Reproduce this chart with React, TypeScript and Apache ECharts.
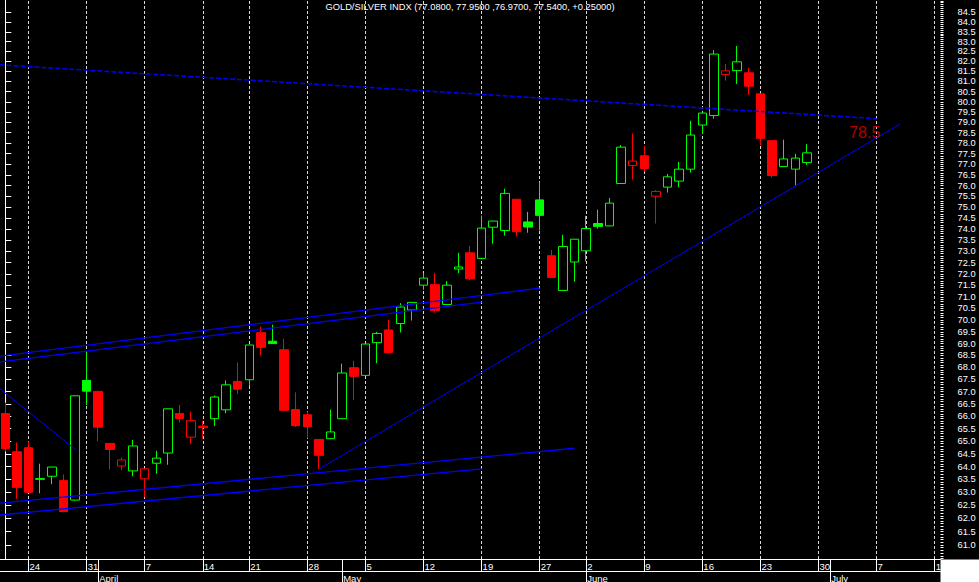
import React, { useEffect, useRef } from 'react';
import * as echarts from 'echarts';

// ---- Data ----
const dates = ['3/20','3/21','3/24','3/25','3/26','3/27','3/28','3/31','4/1','4/2','4/3','4/4','4/7','4/8','4/9','4/10','4/11','4/14','4/15','4/16','4/17','4/21','4/22','4/23','4/24','4/25','4/28','4/29','4/30','5/1','5/2','5/5','5/6','5/7','5/8','5/9','5/12','5/13','5/14','5/15','5/16','5/19','5/20','5/21','5/22','5/23','5/27','5/28','5/29','5/30','6/2','6/3','6/4','6/5','6/6','6/9','6/10','6/11','6/12','6/13','6/16','6/17','6/18','6/19','6/20','6/23','6/24','6/25','6/26','6/27','6/30','7/1','7/2','7/3','7/4','7/7','7/8','7/9','7/10','7/11','7/14'];

const weekStarts = ['3/24','3/31','4/7','4/14','4/21','4/28','5/5','5/12','5/19','5/27','6/2','6/9','6/16','6/23','6/30','7/7','7/14'];
const monthStarts = ['4/1','5/1','6/2','7/1'];
const monthNames = ['April','May','June','July'];

const priorClose = 66.4;
const opens = [66.11,64.58,64.74,63.50,63.62,63.45,62.70,67.46,67.01,64.91,
64.02,63.83,63.52,64.13,64.53,66.11,65.16,65.60,65.90,66.26,
67.42,67.49,69.46,69.10,68.74,66.27,66.06,65.07,65.10,65.90,
67.99,67.67,69.04,69.58,69.85,70.43,71.51,71.53,70.67,72.22,
72.94,72.69,74.09,73.94,75.37,74.33,75.34,72.81,71.28,72.53,
73.03,74.26,74.15,76.10,76.94,77.40,75.51,75.93,76.21,76.77,
78.87,79.33,81.35,81.54,81.43,80.39,78.12,76.89,76.77,77.08];
const highs = [66.55,64.95,64.99,64.11,63.99,63.69,66.85,68.63,67.03,64.93,
64.36,65.05,63.92,64.62,66.31,66.46,66.19,65.82,66.84,67.46,
68.20,68.95,69.72,69.80,69.21,66.97,66.19,65.08,66.27,68.16,
68.28,68.99,69.49,70.01,70.73,70.77,72.04,72.05,71.69,72.94,
73.25,74.62,74.38,75.86,75.38,74.79,76.17,73.07,73.75,73.56,
74.61,74.89,75.43,77.91,78.46,77.87,75.79,76.54,77.11,79.08,
79.46,82.57,81.88,82.78,81.68,80.40,78.13,78.17,77.49,77.95];
const lows = [64.59,62.75,62.98,62.96,63.31,62.23,62.68,66.45,65.00,63.89,
63.85,63.62,62.81,63.72,64.07,65.75,64.88,65.10,65.60,66.12,
66.90,67.23,68.50,69.00,66.20,65.56,65.11,63.90,65.09,65.89,
66.65,67.66,68.17,68.60,69.47,69.98,71.31,70.32,70.66,72.03,
71.72,72.68,73.35,73.71,73.67,73.84,73.94,71.84,71.27,71.66,
72.55,74.03,74.14,76.09,76.28,76.66,74.26,75.68,75.93,76.61,
78.44,79.18,81.05,80.88,80.34,77.89,76.38,76.88,76.01,76.97];
const closes = [64.70,63.19,63.00,63.53,63.98,62.26,66.83,67.02,65.56,64.67,
64.26,64.81,63.91,64.33,66.30,65.91,65.82,65.54,66.78,67.28,
67.10,68.94,68.84,69.00,66.24,65.62,65.58,64.44,65.37,67.77,
67.63,68.98,69.43,68.62,70.56,70.76,71.82,70.41,71.51,72.31,
71.79,74.05,74.37,75.64,73.89,74.10,74.63,71.85,73.22,73.55,
74.03,74.13,75.19,77.81,77.15,76.80,75.73,76.41,76.77,78.39,
79.45,82.37,81.53,81.98,80.77,78.23,76.47,77.25,77.29,77.54];

// trend lines: [category position, value]
const trendTop = [[-0.5, 81.83], [75, 79.18]];
const channelUpperA = [[-0.5, 68.47], [46, 71.38]];
const channelUpperB = [[-0.5, 68.23], [41, 70.77]];
const channelLowerC = [[-0.5, 62.58], [49, 64.72]];
const channelLowerD = [[-0.5, 62.13], [41, 63.91]];
const supportLine = [[27, 63.90], [77, 78.92]];
const shortDown = [[-0.5, 67.13], [6.1, 64.64]];
const targetLabel = [[72.6, 78.5]];

const yMajorTicks = [61.0,61.5,62.0,62.5,63.0,63.5,64.0,64.5,65.0,65.5,66.0,66.5,67.0,67.5,68.0,68.5,69.0,69.5,70.0,70.5,71.0,71.5,72.0,72.5,73.0,73.5,74.0,74.5,75.0,75.5,76.0,76.5,77.0,77.5,78.0,78.5,79.0,79.5,80.0,80.5,81.0,81.5,82.0,82.5,83.0,83.5,84.0,84.5];
const yMin = 60.48;
const yMax = 85.14;

const titleText = 'GOLD/SILVER INDX (77.0800, 77.9500 ,76.9700, 77.5400, +0.25000)';

const GREEN = '#00ff00';
const RED = '#ff0000';
const FONT = '"Liberation Sans", Arial, sans-serif';

export default function App() {
  const ref = useRef<HTMLDivElement>(null);
  useEffect(() => {
    if (!ref.current) return;
    const chart = echarts.init(ref.current, null, { renderer: 'svg' });

    const yMinorTicks: number[] = [];
    for (let k = Math.ceil(yMin * 10); k <= Math.floor(yMax * 10); k++) yMinorTicks.push(k / 10);

    const candleData = opens.map((o, i) => {
      const c = closes[i];
      const prev = i === 0 ? priorClose : closes[i - 1];
      const col = c >= prev ? GREEN : RED;
      const fill = c > o ? '#000000' : col;
      return {
        value: [o, c, lows[i], highs[i]],
        itemStyle: { color: fill, color0: fill, borderColor: col, borderColor0: col, borderWidth: 1 },
      };
    });

    const lineSeries = (data: number[][], width: number, type: any) => ({
      type: 'line',
      xAxisIndex: 2,
      yAxisIndex: 0,
      data,
      symbol: 'none',
      showSymbol: false,
      silent: true,
      z: 5,
      lineStyle: { color: '#0000ff', width, type },
    });

    const option: any = {
      animation: false,
      backgroundColor: '#000000',
      title: {
        text: titleText,
        left: 470,
        top: 2,
        padding: 0,
        textAlign: 'center',
        textStyle: { color: '#ffffff', fontSize: 9.3, fontWeight: 'normal', fontFamily: FONT },
      },
      grid: { left: -0.5, top: 0, width: 941, height: 559, containLabel: false, outerBoundsMode: 'none' },
      xAxis: [
        {
          type: 'category',
          data: dates,
          position: 'bottom',
          boundaryGap: true,
          axisLine: { show: true, lineStyle: { color: '#ffffff', width: 1 } },
          axisTick: {
            show: true,
            alignWithLabel: true,
            length: 12,
            interval: (i: number, v: string) => weekStarts.includes(v) || monthStarts.includes(v),
            lineStyle: { color: '#ffffff', width: 1 },
          },
          axisLabel: {
            show: true,
            interval: (i: number, v: string) => weekStarts.includes(v),
            formatter: (v: string) => v.split('/')[1],
            color: '#ffffff',
            fontSize: 9.5,
            fontFamily: FONT,
            margin: 2,
            align: 'left',
            padding: [0, 0, 0, 1],
          },
          splitLine: { show: false },
        },
        {
          type: 'category',
          data: dates,
          position: 'bottom',
          offset: 12,
          boundaryGap: true,
          axisLine: { show: true, lineStyle: { color: '#ffffff', width: 1 } },
          axisTick: {
            show: true,
            alignWithLabel: true,
            length: 11,
            interval: (i: number, v: string) => monthStarts.includes(v),
            lineStyle: { color: '#ffffff', width: 1 },
          },
          axisLabel: {
            show: true,
            interval: (i: number, v: string) => monthStarts.includes(v),
            formatter: (v: string) => monthNames[monthStarts.indexOf(v)] || '',
            color: '#ffffff',
            fontSize: 9.5,
            fontFamily: FONT,
            margin: 2,
            align: 'left',
            padding: [0, 0, 0, 1],
          },
          splitLine: { show: false },
        },
        {
          type: 'value',
          position: 'top',
          min: -0.5,
          max: dates.length - 0.5,
          show: false,
          splitLine: { show: false },
        },
      ],
      yAxis: [
        {
          type: 'log',
          position: 'right',
          min: yMin,
          max: yMax,
          axisLine: { show: true, lineStyle: { color: '#ffffff', width: 1 } },
          axisTick: { show: true, customValues: yMajorTicks, length: 6, lineStyle: { color: '#ffffff', width: 1 } },
          axisLabel: {
            show: true,
            customValues: yMajorTicks,
            formatter: (v: number) => v.toFixed(1),
            color: '#ffffff',
            fontSize: 9.3,
            fontFamily: FONT,
            margin: 17,
          },
          splitLine: { show: false },
          minorTick: { show: false },
        },
        {
          type: 'log',
          position: 'right',
          min: yMin,
          max: yMax,
          axisLine: { show: false },
          axisTick: { show: true, customValues: yMinorTicks, length: 3, lineStyle: { color: '#ffffff', width: 1 } },
          axisLabel: { show: false },
          splitLine: { show: false },
        },
      ],
      series: [
        {
          type: 'candlestick',
          xAxisIndex: 0,
          yAxisIndex: 0,
          data: candleData,
          barWidth: 9,
          z: 3,
          silent: true,
          markLine: {
            silent: true,
            z: 1,
            symbol: ['none', 'none'],
            label: { show: false },
            emphasis: { disabled: true },
            lineStyle: { color: '#d8d8d8', width: 1, type: [3, 2] },
            data: weekStarts.map((d) => ({ xAxis: d })),
          },
        },
        lineSeries(trendTop, 1.5, [5, 2]),
        lineSeries(channelUpperA, 1.4, 'solid'),
        lineSeries(channelUpperB, 1.4, 'solid'),
        lineSeries(channelLowerC, 1.4, 'solid'),
        lineSeries(channelLowerD, 1.4, 'solid'),
        lineSeries(supportLine, 1, 'solid'),
        lineSeries(shortDown, 1, 'solid'),
        {
          type: 'scatter',
          xAxisIndex: 2,
          yAxisIndex: 0,
          data: targetLabel,
          symbolSize: 1,
          silent: true,
          z: 6,
          itemStyle: { color: 'rgba(0,0,0,0)' },
          label: {
            show: true,
            position: 'right',
            distance: 0,
            formatter: (p: any) => p.value[1].toFixed(1),
            color: '#e00000',
            fontSize: 16,
            fontFamily: FONT,
          },
        },
      ],
      graphic: [
        {
          type: 'rect',
          shape: { x: 940.5, y: 559.5, width: 40, height: 24 },
          style: { fill: '#ffffff' },
          z: 100,
          silent: true,
        },
      ],
    };

    chart.setOption(option);
    return () => chart.dispose();
  }, []);

  return (
    <div
      ref={ref}
      style={{ position: 'absolute', left: 0, top: 0, width: 979, height: 582, background: '#000' }}
    />
  );
}
